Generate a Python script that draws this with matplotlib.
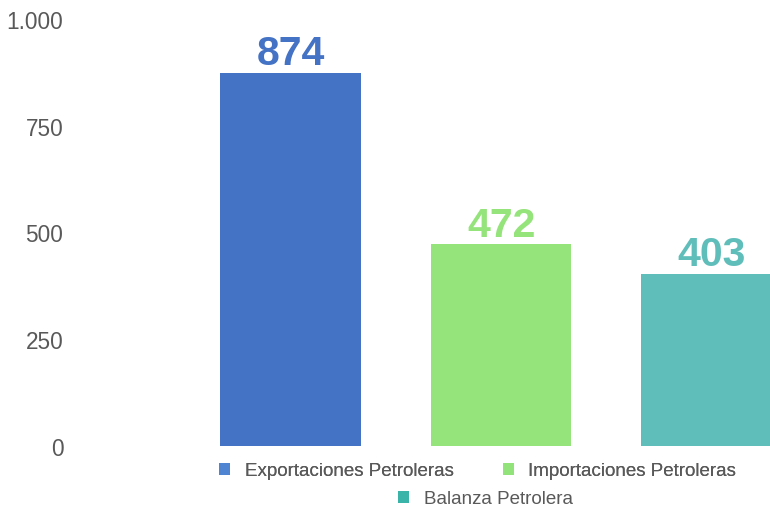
import matplotlib.pyplot as plt
from matplotlib.patches import Patch

plt.rcParams['font.family'] = ['Liberation Sans', 'DejaVu Sans']

categories = ['Exportaciones Petroleras', 'Importaciones Petroleras', 'Balanza Petrolera']
values = [874, 472, 403]
bar_colors = ['#4472C4', '#95E37B', '#60BEBA']
legend_colors = ['#4F84D2', '#92E37A', '#3AB4A9']
y_ticks = [0, 250, 500, 750, 1000]
y_tick_labels = ['0', '250', '500', '750', '1.000']

fig = plt.figure(figsize=(7.7, 5.1), dpi=100)
ax = fig.add_axes([80 / 770, 63 / 510, 690 / 770, 427 / 510])

x = list(range(len(values)))
ax.bar(x, values, width=0.668, color=bar_colors, zorder=2)

for xi, v, c in zip(x, values, bar_colors):
    ax.text(xi, v + 2, str(v), ha='center', va='bottom',
            fontsize=29.5, fontweight='bold', color=c)

ax.set_xlim(-1.0, 2.277)
ax.set_ylim(0, 1000)
ax.set_yticks(y_ticks)
ax.set_yticklabels(y_tick_labels, fontsize=16.3, color='#595959')
ax.tick_params(axis='y', length=0, pad=12)
ax.set_xticks([])
for s in ax.spines.values():
    s.set_visible(False)

handles = [Patch(facecolor=c, edgecolor='none') for c in legend_colors]
leg_kw = dict(frameon=False, fontsize=13.5, handlelength=0.59, handleheight=0.59,
              handletextpad=0.75, columnspacing=2.62, borderpad=0,
              labelcolor='#595959', loc='center')
leg1 = fig.legend(handles[:2], categories[:2], ncol=2,
                  bbox_to_anchor=(477.5 / 770, (510 - 472) / 510), **leg_kw)
fig.add_artist(leg1)
fig.legend(handles[2:], categories[2:], ncol=1,
           bbox_to_anchor=(485.5 / 770, (510 - 500) / 510), **leg_kw)

fig.savefig('out.png', dpi=100)
